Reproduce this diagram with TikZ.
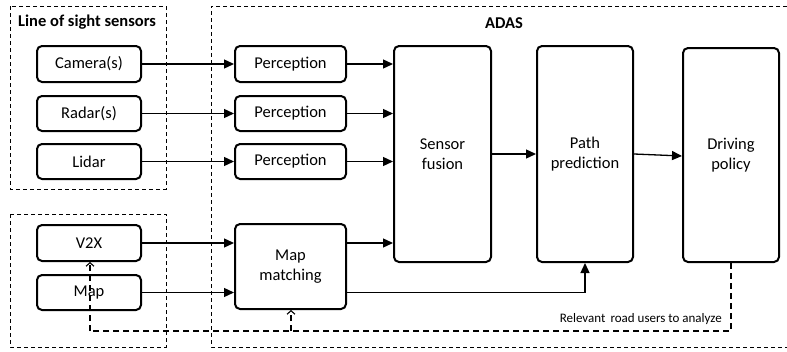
\documentclass[tikz,border=0pt]{standalone}
\usepackage{fontspec}
\setmainfont{Carlito}
\usetikzlibrary{arrows.meta,positioning}
\begin{document}
\begin{tikzpicture}[x=1pt,y=-1pt,
  blk/.style={draw,line width=2pt,rounded corners=5pt,align=center,font=\fontsize{16.5}{20}\selectfont,inner sep=0pt},
  grp/.style={draw,line width=0.9pt,dash pattern=on 4pt off 3pt},
  arr/.style={line width=1.3pt,-{Triangle[length=10pt,width=9pt]}},
  fb/.style={line width=1.3pt,dash pattern=on 6pt off 4pt},
  fbarr/.style={fb,-{Straight Barb[length=3.5pt,width=8pt,line width=1.1pt]}},
  ttl/.style={font=\bfseries\fontsize{16.5}{20}\selectfont}
]
\useasboundingbox (0,0) rectangle (787,351);
% groups
\draw[grp] (10,6) rectangle (166,189);
\draw[grp] (10,214) rectangle (166,347);
\draw[grp] (787,6) -- (211,6) -- (211,347) -- (787,347);
\node[ttl,anchor=west,inner sep=0pt] (tlos) at (18,22) {Line of sight sensors};
\node[ttl,inner sep=0pt] (tadas) at (504,23) {ADAS};
% blocks
\node[blk,minimum width=104pt,minimum height=36pt] (cam) at (89,64) {Camera(s)};
\node[blk,minimum width=104pt,minimum height=35pt] (rad) at (89,113.5) {Radar(s)};
\node[blk,minimum width=104pt,minimum height=35pt] (lid) at (89,161.5) {Lidar};
\node[blk,minimum width=104pt,minimum height=36pt] (v2x) at (89,243) {V2X};
\node[blk,minimum width=104pt,minimum height=35pt] (map) at (89,292.5) {Map};
\node[blk,minimum width=111pt,minimum height=36pt] (p1) at (290.5,64) {Perception};
\node[blk,minimum width=111pt,minimum height=35pt] (p2) at (290.5,113.5) {Perception};
\node[blk,minimum width=111pt,minimum height=35pt] (p3) at (290.5,161.5) {Perception};
\node[blk,minimum width=111pt,minimum height=85pt] (mm) at (290.5,266.5) {Map\\matching};
\node[blk,minimum width=97pt,minimum height=216pt] (sf) at (442.5,154) {Sensor\\fusion};
\node[blk,minimum width=96pt,minimum height=216pt] (pp) at (585,154) {Path\\prediction};
\node[blk,minimum width=96pt,minimum height=214pt] (dp) at (731,155) {Driving\\policy};
% arrows
\draw[arr] (cam.east) -- (p1.west);
\draw[arr] (rad.east) -- (p2.west);
\draw[arr] (lid.east) -- (p3.west);
\draw[arr] (p1.east) -- (p1.east -| sf.west);
\draw[arr] (p2.east) -- (p2.east -| sf.west);
\draw[arr] (p3.east) -- (p3.east -| sf.west);
\draw[arr] (v2x.east) -- (v2x.east -| mm.west);
\draw[arr] (map.east) -- (map.east -| mm.west);
\draw[arr] (mm.east |- v2x.east) -- (v2x.east -| sf.west);
\coordinate (mmo) at (mm.east |- map.east);
\draw[arr] (mmo) -| (pp.south);
\draw[arr] (sf.east |- 0,154) -- (pp.west |- 0,154);
\draw[arr] (pp.east |- 0,154) -- (dp.west |- 0,156);
% feedback
\coordinate (fbc) at (731,331);
\coordinate (fbl) at (90,331);
\coordinate (fbm) at (291,331);
\draw[fb] (dp.south) -- (fbc) -- (fbl);
\draw[fbarr] (fbl) -- (v2x.south -| fbl);
\draw[fbarr] (fbm) -- (mm.south -| fbm);
\node[font=\fontsize{13}{15}\selectfont,anchor=base east,inner sep=0pt] (lbl) at (722,322) {Relevant\, road users to analyze};
\end{tikzpicture}
\end{document}
